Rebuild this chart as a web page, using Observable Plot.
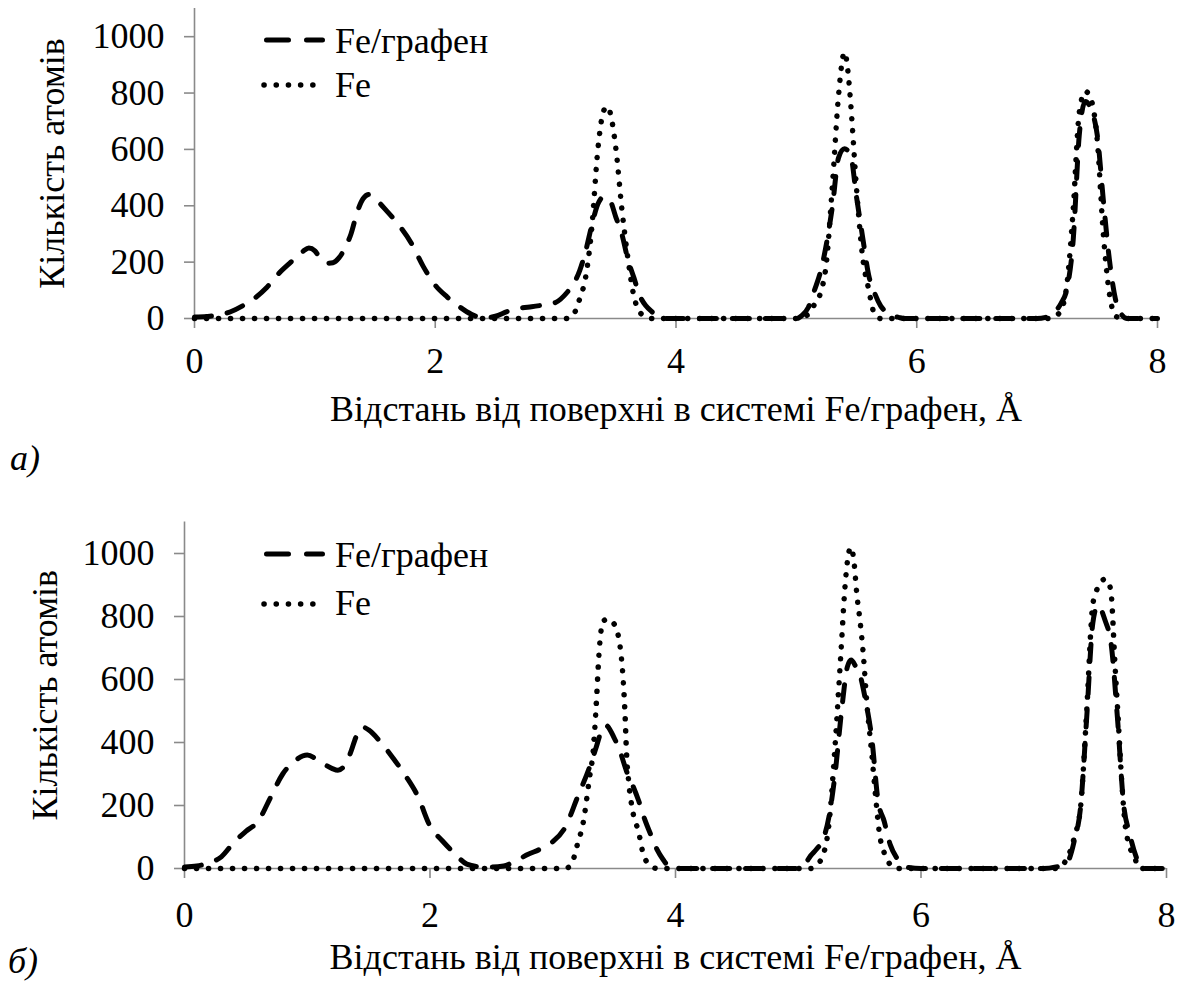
<!DOCTYPE html>
<html>
<head>
<meta charset="utf-8">
<script src="https://cdn.jsdelivr.net/npm/d3@7"></script>
<script src="https://cdn.jsdelivr.net/npm/@observablehq/plot@0.6"></script>
<style>
  body { margin: 0; background: #fff; }
  #page { position: relative; width: 1183px; height: 991px; overflow: hidden; background: #fff;
          font-family: "Times New Roman", "Liberation Serif", Tinos, "Nimbus Roman", "Noto Serif", "DejaVu Serif", FreeSerif, serif; color: #000; }
  .panel { position: absolute; left: 0; }
  #overlay { position: absolute; left: 0; top: 0; pointer-events: none; }
  svg text { font-family: "Times New Roman", "Liberation Serif", Tinos, "Nimbus Roman", "Noto Serif", "DejaVu Serif", FreeSerif, serif !important; }
</style>
</head>
<body>
<div id="page"></div>
<script>
// ---------- data ----------
const xTicks = [0, 2, 4, 6, 8];
const yTicks = [0, 200, 400, 600, 800, 1000];
const xTitle = "Відстань від поверхні в системі Fe/графен, Å";
const yTitle = "Кількість атомів";
const seriesNames = ["Fe/графен", "Fe"];
const panelTags = ["а)", "б)"];

// panel а): [distance Å, count]
const topGraphene = [[0,5],[0.1,7],[0.2,12],[0.3,24],[0.4,45],[0.5,72],[0.6,110],[0.7,160],[0.8,200],[0.9,238],[0.95,250],[1.0,240],[1.05,210],[1.1,196],[1.15,198],[1.2,215],[1.25,250],[1.3,300],[1.35,375],[1.4,425],[1.45,440],[1.5,425],[1.6,380],[1.7,330],[1.8,268],[1.9,185],[2.0,118],[2.1,76],[2.2,42],[2.3,15],[2.4,2],[2.5,8],[2.6,25],[2.7,36],[2.8,42],[2.9,48],[3.0,57],[3.1,95],[3.15,124],[3.2,170],[3.25,240],[3.3,330],[3.35,405],[3.4,432],[3.45,420],[3.5,360],[3.55,300],[3.6,210],[3.65,145],[3.7,80],[3.75,45],[3.8,24],[3.85,8],[3.9,0],[4.0,0],[4.5,0],[5.0,0],[5.05,12],[5.1,40],[5.15,100],[5.2,165],[5.25,265],[5.3,400],[5.35,570],[5.4,602],[5.45,580],[5.5,430],[5.55,290],[5.6,155],[5.65,90],[5.7,45],[5.75,22],[5.8,10],[5.85,4],[5.9,0],[6.0,0],[6.5,0],[7.0,0],[7.1,8],[7.15,25],[7.2,55],[7.25,110],[7.3,280],[7.35,650],[7.4,770],[7.45,740],[7.5,650],[7.55,420],[7.6,210],[7.65,70],[7.7,15],[7.75,0],[8.0,0]];
const topFe = [[0,0],[1,0],[2,0],[3,0],[3.1,0],[3.15,15],[3.2,70],[3.25,148],[3.3,320],[3.35,596],[3.4,738],[3.43,752],[3.45,735],[3.5,605],[3.55,390],[3.6,215],[3.65,80],[3.7,22],[3.75,6],[3.8,0],[4.5,0],[5.0,0],[5.1,15],[5.15,50],[5.2,90],[5.25,200],[5.3,478],[5.35,790],[5.4,945],[5.43,870],[5.45,770],[5.5,460],[5.55,220],[5.6,105],[5.65,15],[5.7,0],[6.5,0],[7.1,0],[7.15,8],[7.2,30],[7.25,130],[7.3,390],[7.35,730],[7.4,806],[7.45,775],[7.5,630],[7.55,300],[7.6,90],[7.65,10],[7.7,0],[8,0]];

// panel б)
const bottomGraphene = [[0,5],[0.1,8],[0.2,18],[0.3,37],[0.4,82],[0.5,118],[0.6,150],[0.7,225],[0.8,300],[0.9,342],[1.0,360],[1.1,340],[1.2,318],[1.25,312],[1.3,325],[1.35,365],[1.4,420],[1.45,449],[1.5,440],[1.6,400],[1.7,350],[1.8,295],[1.9,230],[2.0,135],[2.1,88],[2.2,48],[2.3,14],[2.4,6],[2.5,5],[2.6,8],[2.7,25],[2.8,45],[2.9,62],[3.0,85],[3.1,130],[3.2,225],[3.3,322],[3.35,380],[3.4,440],[3.43,455],[3.5,415],[3.55,370],[3.6,310],[3.65,265],[3.7,215],[3.75,155],[3.8,106],[3.85,60],[3.9,28],[3.95,5],[4.0,0],[4.5,0],[5.0,0],[5.05,12],[5.1,40],[5.15,62],[5.2,90],[5.25,164],[5.3,300],[5.35,490],[5.4,640],[5.43,662],[5.47,640],[5.5,618],[5.55,530],[5.6,410],[5.65,215],[5.7,150],[5.75,75],[5.8,35],[5.85,14],[5.9,3],[6.0,0],[6.5,0],[7.0,0],[7.1,5],[7.15,10],[7.2,25],[7.25,90],[7.3,195],[7.35,480],[7.4,780],[7.44,835],[7.5,787],[7.55,710],[7.6,480],[7.65,206],[7.7,110],[7.75,40],[7.8,0],[8,0]];
const bottomFe = [[0,0],[1,0],[2,0],[3,0],[3.1,0],[3.15,12],[3.2,75],[3.25,150],[3.3,290],[3.33,375],[3.35,490],[3.38,700],[3.41,785],[3.45,792],[3.49,781],[3.52,760],[3.55,700],[3.57,620],[3.59,480],[3.6,375],[3.62,270],[3.65,185],[3.7,115],[3.74,42],[3.8,8],[3.85,0],[4.5,0],[5.1,0],[5.15,12],[5.2,40],[5.25,140],[5.3,390],[5.35,700],[5.38,890],[5.41,1000],[5.43,1020],[5.45,987],[5.48,860],[5.5,797],[5.53,680],[5.56,520],[5.6,360],[5.63,230],[5.66,115],[5.7,50],[5.75,12],[5.8,0],[6.5,0],[7.1,0],[7.15,10],[7.2,40],[7.25,100],[7.3,195],[7.35,500],[7.4,840],[7.45,898],[7.5,919],[7.53,905],[7.55,870],[7.58,650],[7.6,520],[7.63,311],[7.66,150],[7.7,70],[7.74,35],[7.78,0],[8,0]];

// ---------- styling ----------
const FONT = "Times New Roman, Liberation Serif, Tinos, Nimbus Roman, Noto Serif, DejaVu Serif, FreeSerif, serif";
const AXIS = "#8a8a8a";
const DASH = "17 16";
const DOT = "0.1 11.9";

function panel(graphene, fe, o) {
  const svg = Plot.plot({
    width: 1183, height: o.height,
    marginLeft: o.ml, marginRight: o.mr, marginTop: o.mt, marginBottom: o.mb,
    style: {fontSize: "36px", color: "#000", background: "transparent", overflow: "visible"},
    x: {domain: [0, 8]},
    y: {domain: [0, 1100]},
    marks: [
      Plot.ruleY([0], {stroke: AXIS, strokeWidth: 1.6}),
      Plot.ruleX([0], {stroke: AXIS, strokeWidth: 1.6}),
      Plot.axisY(yTicks, {tickSize: 10, tickPadding: 20, stroke: AXIS, strokeWidth: 1.6, tickFormat: d => String(d),
        label: yTitle, labelAnchor: "center", labelArrow: "none", labelOffset: o.ylo}),
      Plot.axisX(xTicks, {tickSize: 10, tickPadding: o.xtp, stroke: AXIS, strokeWidth: 1.6, tickFormat: d => String(d),
        label: xTitle, labelAnchor: "center", labelArrow: "none", labelOffset: o.xlo}),
      Plot.line(fe, {x: d => d[0], y: d => d[1], stroke: "#000", strokeWidth: 5.5,
        strokeDasharray: DOT, strokeLinecap: "round", curve: "monotone-x"}),
      Plot.line(graphene, {x: d => d[0], y: d => d[1], stroke: "#000", strokeWidth: 5,
        strokeDasharray: DASH, strokeLinecap: "round", curve: "monotone-x"})
    ]
  });
  return svg;
}

const page = document.getElementById("page");

const topDiv = document.createElement("div");
topDiv.className = "panel"; topDiv.style.top = "0px";
topDiv.appendChild(panel(topGraphene, topFe, {height: 432, ml: 194, mr: 26, mt: 8, mb: 114, ylo: 156, xtp: 19, xlo: 102}));
page.appendChild(topDiv);

const botDiv = document.createElement("div");
botDiv.className = "panel"; botDiv.style.top = "432px";
botDiv.appendChild(panel(bottomGraphene, bottomFe, {height: 559, ml: 184, mr: 17, mt: 89.5, mb: 123, ylo: 153, xtp: 23, xlo: 100}));
page.appendChild(botDiv);

// ---------- legends and panel tags ----------
const ov = d3.select(page).append("svg").attr("id", "overlay")
  .attr("width", 1183).attr("height", 991)
  .attr("font-size", 36);

const legends = [
  {y1: 40, t1: 53, y2: 85, t2: 97},
  {y1: 554, t1: 567, y2: 604, t2: 615}
];
legends.forEach(l => {
  ov.append("line").attr("x1", 266.5).attr("x2", 322.5).attr("y1", l.y1).attr("y2", l.y1)
    .attr("stroke", "#000").attr("stroke-width", 5).attr("stroke-linecap", "round").attr("stroke-dasharray", "22 18");
  ov.append("text").attr("x", 335).attr("y", l.t1).text(seriesNames[0]);
  ov.append("line").attr("x1", 264).attr("x2", 325).attr("y1", l.y2).attr("y2", l.y2)
    .attr("stroke", "#000").attr("stroke-width", 5.5).attr("stroke-linecap", "round").attr("stroke-dasharray", "0.1 12.1");
  ov.append("text").attr("x", 335).attr("y", l.t2).text(seriesNames[1]);
});
ov.append("text").attr("x", 10).attr("y", 470).attr("font-style", "italic").text(panelTags[0]);
ov.append("text").attr("x", 8).attr("y", 973).attr("font-style", "italic").text(panelTags[1]);
</script>
</body>
</html>
